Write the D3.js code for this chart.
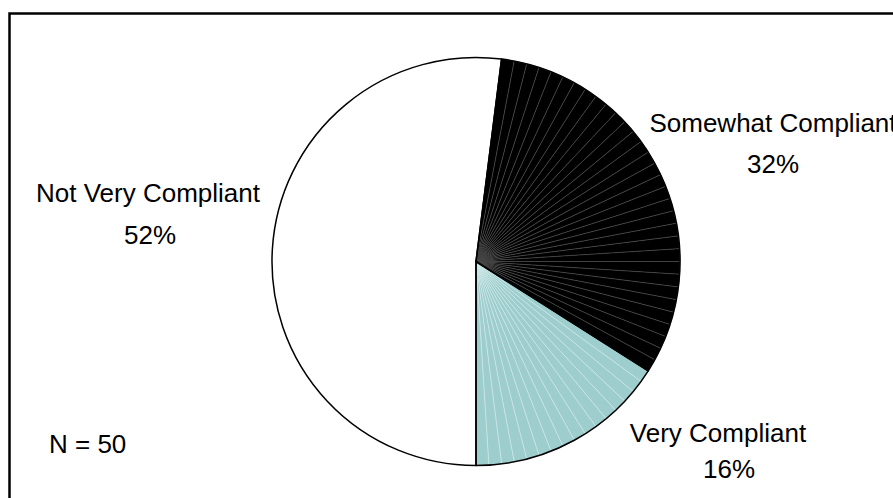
<!DOCTYPE html>
<html>
<head>
<meta charset="utf-8">
<script src="https://cdn.jsdelivr.net/npm/d3@7"></script>
<style>
  html, body { margin: 0; padding: 0; background: #fff; }
  svg { display: block; }
  text { font-family: "Liberation Sans", Arial, sans-serif; fill: #000; }
</style>
</head>
<body>
<svg id="chart" width="893" height="498"></svg>
<script>
// Compliance ratings (share of respondents, %)
const categories = ["Not Very Compliant", "Somewhat Compliant", "Very Compliant"];
const percents = [52, 32, 16];
const sampleNote = "N = 50";

const sliceFill = {
  "Not Very Compliant": "#ffffff",
  "Somewhat Compliant": "#000000",
  "Very Compliant": "#9ecdcd"
};
// faint streaks of the shaded fills
const streakColor = {
  "Not Very Compliant": null,
  "Somewhat Compliant": "#505050",
  "Very Compliant": "#d6ecec"
};
// label anchor points (centre x, baseline of name line, baseline of percent line)
const labelPos = {
  "Not Very Compliant": { x: 148, y1: 202, x2: 150, y2: 244 },
  "Somewhat Compliant": { x: 773, y1: 132, x2: 773, y2: 173 },
  "Very Compliant":     { x: 718, y1: 442, x2: 729, y2: 478 }
};

const svg = d3.select("#chart");
const cx = 476, cy = 261.5, radius = 204;
const fontSize = 26;

// outer frame (right and bottom edges lie outside the view)
svg.append("rect")
  .attr("x", 9.5).attr("y", 13.5)
  .attr("width", 1000).attr("height", 1000)
  .attr("fill", "none").attr("stroke", "#000").attr("stroke-width", 2.5);

const data = categories.map((c, i) => ({ name: c, value: percents[i] }));

// first slice starts at six o'clock and runs clockwise
const pie = d3.pie().value(d => d.value).sort(null)
  .startAngle(Math.PI).endAngle(3 * Math.PI);
const arcs = pie(data);
const arc = d3.arc().innerRadius(0).outerRadius(radius);

const g = svg.append("g").attr("transform", `translate(${cx},${cy})`);

// shaded slices are drawn as many thin wedges
const step = 3.6 * Math.PI / 180;
arcs.forEach(a => {
  const name = a.data.name;
  const streak = streakColor[name];
  if (streak) {
    const n = Math.max(1, Math.round((a.endAngle - a.startAngle) / step));
    const span = (a.endAngle - a.startAngle) / n;
    const pieces = d3.range(n).map(k => ({
      startAngle: a.startAngle + k * span,
      endAngle: a.startAngle + (k + 1) * span
    }));
    g.append("g").selectAll("path").data(pieces).join("path")
      .attr("d", arc)
      .attr("fill", sliceFill[name])
      .attr("stroke", streak)
      .attr("stroke-width", 0.5);
  } else {
    g.append("path").attr("d", arc(a)).attr("fill", sliceFill[name]);
  }
});

// slice outlines
g.selectAll("path.outline").data(arcs).join("path")
  .attr("class", "outline")
  .attr("d", arc)
  .attr("fill", "none")
  .attr("stroke", "#000")
  .attr("stroke-width", 1.5)
  .attr("stroke-linejoin", "round");

// category labels with percentages
arcs.forEach(a => {
  const p = labelPos[a.data.name];
  svg.append("text")
    .attr("x", p.x).attr("y", p.y1)
    .attr("text-anchor", "middle")
    .attr("font-size", fontSize)
    .text(a.data.name);
  svg.append("text")
    .attr("x", p.x2).attr("y", p.y2)
    .attr("text-anchor", "middle")
    .attr("font-size", fontSize)
    .text(a.data.value + "%");
});

svg.append("text")
  .attr("x", 49).attr("y", 453)
  .attr("font-size", fontSize)
  .text(sampleNote);
</script>
</body>
</html>
